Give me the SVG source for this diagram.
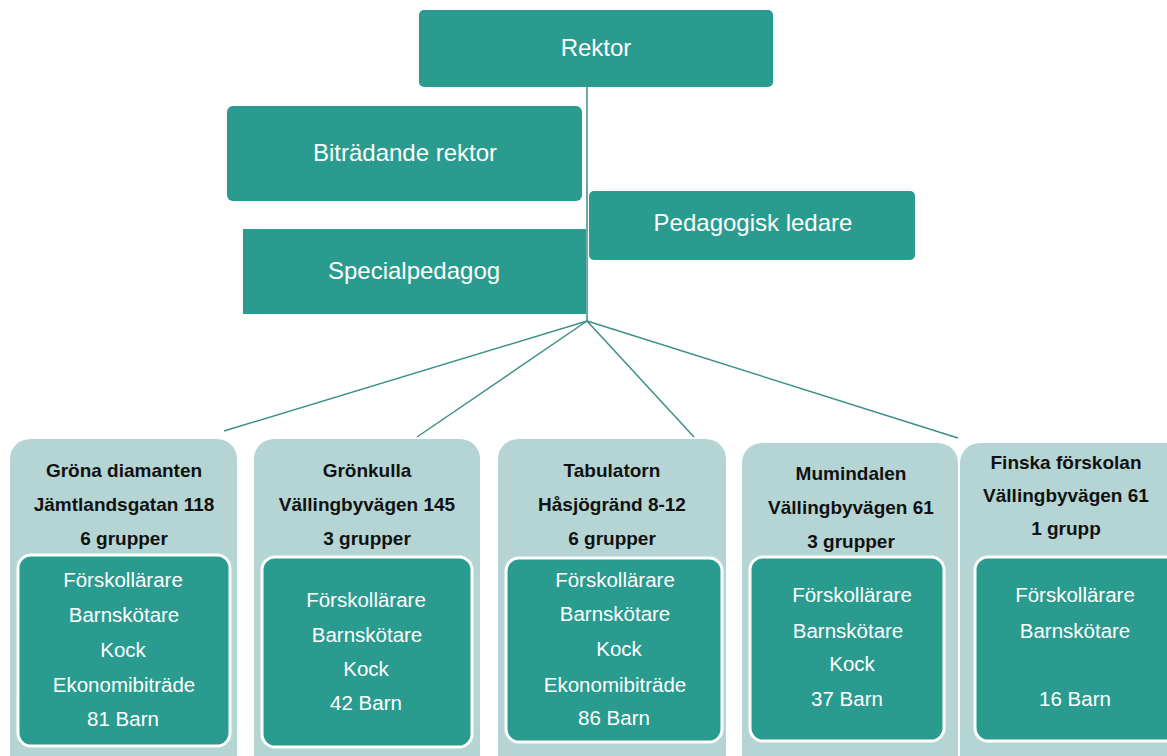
<svg xmlns="http://www.w3.org/2000/svg" width="1167" height="756" viewBox="0 0 1167 756">
<style>
.top{fill:#2a9b8f}
.outer{fill:#b4d5d3}
.inner{fill:#2a9b8f;stroke:#ffffff;stroke-width:3}
.tt{font-family:"Liberation Sans",Arial,sans-serif;font-size:24px;fill:#ffffff;text-anchor:middle}
.ti{font-family:"Liberation Sans",Arial,sans-serif;font-size:20.5px;fill:#ffffff;text-anchor:middle}
.tb{font-family:"Liberation Sans",Arial,sans-serif;font-size:19px;font-weight:bold;fill:#111111;text-anchor:middle}
.con{stroke:#3b8f87;stroke-width:1.5;fill:none}
</style>
<rect width="1167" height="756" fill="#ffffff"/>
<g id="connectors">
<line class="con" x1="587" y1="87" x2="587" y2="321"/>
<line class="con" x1="587" y1="321" x2="224" y2="431"/>
<line class="con" x1="587" y1="321" x2="417" y2="437"/>
<line class="con" x1="587" y1="321" x2="694" y2="437"/>
<line class="con" x1="587" y1="321" x2="958" y2="438"/>
</g>
<g id="rektor">
<rect class="top" x="419" y="10" width="354" height="77" rx="5"/>
<text class="tt" x="596" y="56">Rektor</text>
</g>
<g id="bitradande">
<rect class="top" x="227" y="106" width="355" height="95" rx="6"/>
<text class="tt" x="405" y="161">Biträdande rektor</text>
</g>
<g id="pedagogisk">
<rect class="top" x="589" y="191" width="326" height="69" rx="5"/>
<text class="tt" x="753" y="231">Pedagogisk ledare</text>
</g>
<g id="special">
<rect class="top" x="243" y="229" width="343" height="85"/>
<text class="tt" x="414" y="279">Specialpedagog</text>
</g>
<g id="grona">
<rect class="outer" x="10" y="439" width="227" height="340" rx="20"/>
<text class="tb" x="124" y="477">Gröna diamanten</text>
<text class="tb" x="124" y="511">Jämtlandsgatan 118</text>
<text class="tb" x="124" y="545">6 grupper</text>
<rect class="inner" x="18" y="555" width="212" height="191" rx="13"/>
<text class="ti" x="123" y="587">Förskollärare</text>
<text class="ti" x="124" y="622">Barnskötare</text>
<text class="ti" x="123" y="657">Kock</text>
<text class="ti" x="124" y="692">Ekonomibiträde</text>
<text class="ti" x="123" y="726">81 Barn</text>
</g>
<g id="gronkulla">
<rect class="outer" x="254" y="439" width="226" height="340" rx="20"/>
<text class="tb" x="367" y="477">Grönkulla</text>
<text class="tb" x="367" y="511">Vällingbyvägen 145</text>
<text class="tb" x="367" y="545">3 grupper</text>
<rect class="inner" x="262" y="557" width="210" height="190" rx="13"/>
<text class="ti" x="366" y="607">Förskollärare</text>
<text class="ti" x="367" y="642">Barnskötare</text>
<text class="ti" x="366" y="676">Kock</text>
<text class="ti" x="366" y="710">42 Barn</text>
</g>
<g id="tabulatorn">
<rect class="outer" x="498" y="439" width="228" height="340" rx="20"/>
<text class="tb" x="612" y="477">Tabulatorn</text>
<text class="tb" x="612" y="511">Håsjögränd 8-12</text>
<text class="tb" x="612" y="545">6 grupper</text>
<rect class="inner" x="506" y="558" width="216" height="184" rx="13"/>
<text class="ti" x="615" y="587">Förskollärare</text>
<text class="ti" x="615" y="621">Barnskötare</text>
<text class="ti" x="619" y="656">Kock</text>
<text class="ti" x="615" y="692">Ekonomibiträde</text>
<text class="ti" x="614" y="725">86 Barn</text>
</g>
<g id="mumindalen">
<rect class="outer" x="742" y="443" width="216" height="336" rx="20"/>
<text class="tb" x="851" y="480">Mumindalen</text>
<text class="tb" x="851" y="514">Vällingbyvägen 61</text>
<text class="tb" x="851" y="548">3 grupper</text>
<rect class="inner" x="750" y="557" width="194" height="184" rx="13"/>
<text class="ti" x="852" y="602">Förskollärare</text>
<text class="ti" x="848" y="638">Barnskötare</text>
<text class="ti" x="852" y="671">Kock</text>
<text class="ti" x="847" y="706">37 Barn</text>
</g>
<g id="finska">
<rect class="outer" x="960" y="443" width="230" height="336" rx="20"/>
<text class="tb" x="1066" y="469">Finska förskolan</text>
<text class="tb" x="1066" y="502">Vällingbyvägen 61</text>
<text class="tb" x="1066" y="535">1 grupp</text>
<rect class="inner" x="975" y="557" width="210" height="184" rx="13"/>
<text class="ti" x="1075" y="602">Förskollärare</text>
<text class="ti" x="1075" y="638">Barnskötare</text>
<text class="ti" x="1075" y="706">16 Barn</text>
</g>
</svg>
